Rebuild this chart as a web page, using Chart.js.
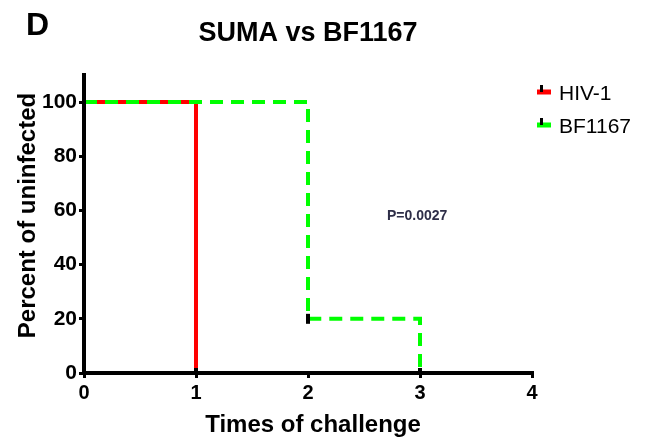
<!DOCTYPE html>
<html>
<head>
<meta charset="utf-8">
<title>SUMA vs BF1167</title>
<script src="https://cdn.jsdelivr.net/npm/chart.js@4/dist/chart.umd.min.js"></script>
<style>
  body { margin: 0; background: #fff; }
  canvas { display: block; }
</style>
</head>
<body>
<canvas id="grafico" width="659" height="444"></canvas>
<script>
// dados
const seriesNames = ['HIV-1', 'BF1167'];
const hivX = [0, 1];
const hivY = [100, 0];
const bfX = [0, 2, 3];
const bfY = [100, 20, 0];
const xTicks = [0, 1, 2, 3, 4];
const yTicks = [0, 20, 40, 60, 80, 100];

const FONTE = "'Liberation Sans', Arial, sans-serif";
Chart.defaults.font.family = FONTE;
Chart.defaults.color = '#000';

const pontos = (xs, ys) => xs.map((x, i) => ({ x: x, y: ys[i] }));

// textos fixos: painel, título, eixos, legenda e valor P
const textosPlugin = {
    id: 'textos',
    afterDraw(chart) {
        const ctx = chart.ctx;
        ctx.save();
        ctx.fillStyle = '#000';
        ctx.textBaseline = 'alphabetic';

        ctx.font = 'bold 32px ' + FONTE;
        ctx.textAlign = 'left';
        ctx.fillText('D', 26, 35);

        ctx.font = 'bold 27px ' + FONTE;
        ctx.textAlign = 'center';
        ctx.fillText('SUMA vs BF1167', 308, 41);

        ctx.font = 'bold 24px ' + FONTE;
        ctx.fillText('Times of challenge', 313, 432);

        ctx.save();
        ctx.translate(35, 215.5);
        ctx.rotate(-Math.PI / 2);
        ctx.fillText('Percent of uninfected', 0, 0);
        ctx.restore();

        ctx.font = 'bold 14px ' + FONTE;
        ctx.textAlign = 'left';
        ctx.fillStyle = '#2e2e48';
        ctx.fillText('P=0.0027', 387, 220);

        // legenda
        const baseY = [100, 133];
        chart.data.datasets.forEach((ds, i) => {
            const yl = baseY[i] - 8;
            ctx.strokeStyle = ds.borderColor;
            ctx.lineWidth = 5;
            ctx.setLineDash([]);
            ctx.beginPath();
            ctx.moveTo(537, yl);
            ctx.lineTo(551, yl);
            ctx.stroke();
            ctx.strokeStyle = '#000';
            ctx.lineWidth = 3;
            ctx.beginPath();
            ctx.moveTo(541.5, yl - 7);
            ctx.lineTo(541.5, yl);
            ctx.stroke();
            ctx.fillStyle = '#000';
            ctx.font = '21px ' + FONTE;
            ctx.fillText(ds.label, 559, baseY[i]);
        });
        ctx.restore();
    }
};

new Chart(document.getElementById('grafico'), {
    type: 'scatter',
    data: {
        datasets: [
            {
                label: seriesNames[0],
                data: pontos(hivX, hivY),
                showLine: true,
                stepped: 'before',
                borderColor: '#ff0000',
                borderWidth: 4,
                pointStyle: 'line',
                rotation: 90,
                pointRadius: 5,
                pointBorderWidth: 4,
                pointBorderColor: '#000',
                pointBackgroundColor: '#000',
                order: 1
            },
            {
                label: seriesNames[1],
                data: pontos(bfX, bfY),
                showLine: true,
                stepped: 'before',
                borderColor: '#00ff00',
                borderWidth: 4,
                borderDash: [13, 8],
                pointStyle: 'line',
                rotation: 90,
                pointRadius: 5,
                pointBorderWidth: 4,
                pointBorderColor: '#000',
                pointBackgroundColor: '#000',
                order: 0
            }
        ]
    },
    options: {
        responsive: false,
        animation: false,
        layout: {
            padding: { top: 75, right: 127, left: 0, bottom: 0 }
        },
        plugins: {
            legend: { display: false },
            title: { display: false },
            tooltip: { enabled: false }
        },
        scales: {
            x: {
                type: 'linear',
                min: 0,
                max: 4,
                afterBuildTicks: s => { s.ticks = xTicks.map(v => ({ value: v })); },
                afterFit: s => { s.height = 71; },
                grid: {
                    drawOnChartArea: false,
                    drawTicks: true,
                    tickLength: 5,
                    color: '#000',
                    lineWidth: 3
                },
                border: { display: true, color: '#000', width: 4 },
                ticks: {
                    padding: 3,
                    maxRotation: 0,
                    font: { size: 20, weight: 'bold' }
                }
            },
            y: {
                type: 'linear',
                min: 0,
                max: 110,
                afterBuildTicks: s => { s.ticks = yTicks.map(v => ({ value: v })); },
                afterFit: s => { s.width = 84; },
                grid: {
                    drawOnChartArea: false,
                    drawTicks: true,
                    tickLength: 5,
                    color: '#000',
                    lineWidth: 3
                },
                border: { display: true, color: '#000', width: 4 },
                ticks: {
                    padding: 2,
                    font: { size: 21, weight: 'bold' }
                }
            }
        }
    },
    plugins: [textosPlugin]
});
</script>
</body>
</html>
